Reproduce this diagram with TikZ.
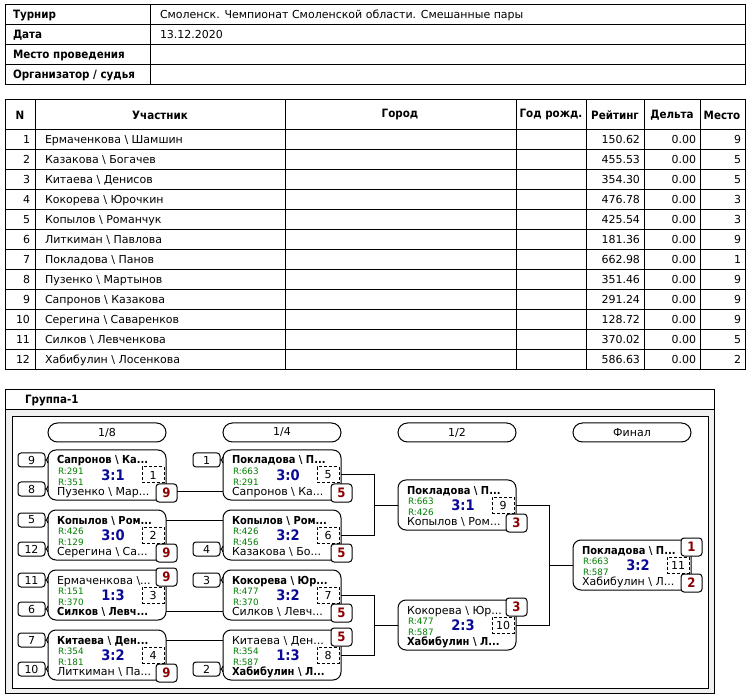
\documentclass[tikz,border=0pt]{standalone}
\usepackage{fontspec}
\setmainfont{DejaVu Sans}[BoldFeatures={FakeStretch=0.9}]
\usetikzlibrary{calc}
\definecolor{rgreen}{RGB}{0,128,0}
\definecolor{scoreblue}{RGB}{10,10,150}
\definecolor{placered}{RGB}{140,0,0}
\definecolor{framegrey}{RGB}{240,240,240}
\newcommand\bsl{\textbackslash}
\newcommand\mymatch[9]{%
 \node[matchbox] (#1) at (#2,#3) {};
 \coordinate (#1-tl) at ($(#1.north west)+(0,10)$);
 \coordinate (#1-tr) at ($(#1.north east)+(0,10)$);
 \coordinate (#1-bl) at ($(#1.north west)+(0,41)$);
 \coordinate (#1-br) at ($(#1.north east)+(0,41)$);
 \node[anchor=base west] (#1-a) at ($(#1.north west)+(9,14)$) {#4};
 \node[anchor=base west] (#1-b) at ($(#1.north west)+(9,45)$) {#5};
 \node[rtext] (#1-r1) at ($(#1.north west)+(10,24.5)$) {R:#6};
 \node[rtext] (#1-r2) at ($(#1.north west)+(10,35.5)$) {R:#7};
 \node[scoretext] (#1-s) at ($(#1.north west)+(65,25)$) {#8};
 \node[numbox] (#1-n) at ($(#1.north west)+(105,25)$) {#9};
}
\newcommand\placetop[3]{\node[placebox] (#1-#3) at ($(#1.north west)+(118.5,7)$) {#2};}
\newcommand\placebot[3]{\node[placebox] (#1-#3) at ($(#1.north west)+(118.5,43)$) {#2};}
\newcommand\seedat[4]{% match, dy, number, name
 \node[seedbox] (#4) at ($(#1.north west)+(-16.5,#2)$) {#3};
 \draw[line join=round] (#4.east) -- ++(1.5,0) -- ($(#4.east -| #1.west)+(0,-3)$);
 \draw[line join=round] ($(#4.east)+(1.5,0)$) -- ($(#4.east -| #1.west)+(0,3)$);
}
\begin{document}
\begin{tikzpicture}[x=1pt,y=-1pt,line width=1pt,
  every node/.style={inner sep=0pt,outer sep=0pt,font=\fontsize{11}{13}\selectfont},
  hb/.style={font=\fontsize{11.5}{13}\selectfont\bfseries},
  matchbox/.style={draw,fill=white,rounded corners=8pt,minimum width=118pt,minimum height=50pt,anchor=north west},
  seedbox/.style={draw,fill=white,rounded corners=3pt,minimum width=27pt,minimum height=14pt},
  numbox/.style={draw,dash pattern=on 3pt off 2pt,minimum width=22pt,minimum height=16pt},
  placebox/.style={draw,fill=white,rounded corners=3pt,minimum width=21pt,minimum height=18pt,text=placered,font=\fontsize{13}{15}\selectfont\bfseries},
  rtext/.style={text=rgreen,font=\fontsize{8.8}{10}\selectfont,anchor=base west},
  scoretext/.style={text=scoreblue,font=\fontsize{14.5}{16}\selectfont\bfseries},
  pill/.style={draw,fill=white,rounded corners=9.5pt,minimum width=118pt,minimum height=19pt,anchor=north west},
]
\fill[white] (0,0) rectangle (750,700);
\useasboundingbox (0,0) rectangle (750,700);

% ---- info table
\draw (5,5) rectangle (745,85);
\foreach \yy in {25,45,65} \draw (5,\yy) -- (745,\yy);
\draw (150,5) -- (150,85);
\node[hb,anchor=base west] (i1) at (13,19) {Турнир};
\node[hb,anchor=base west] (i2) at (13,39) {Дата};
\node[hb,anchor=base west] (i3) at (13,59) {Место проведения};
\node[hb,anchor=base west] (i4) at (13,79) {Организатор / судья};
\node[anchor=base west] (v1) at (160,19) {Смоленск. Чемпионат Смоленской области. Смешанные пары};
\node[anchor=base west] (v2) at (160,39) {13.12.2020};

% ---- participants table
\draw (5,100) rectangle (745,370);
\draw (5,130) -- (745,130);
\foreach \k in {1,...,11} \draw (5,130+20*\k) -- (745,130+20*\k);
\foreach \xx in {35,285,516,586,644,700} \draw (\xx,100) -- (\xx,370);
\node[hb] (h1) at (20,115) {N};
\node[hb] (h2) at (160,115) {Участник};
\node[hb] (h3) at (400,115) {Город};
\node[hb] (h4) at (551,115) {Год рожд.};
\node[hb] (h5) at (615,115) {Рейтинг};
\node[hb] (h6) at (672,115) {Дельта};
\node[hb] (h7) at (722,115) {Место};
\foreach \i/\a/\b/\r/\p in {1/Ермаченкова/Шамшин/150.62/9,2/Казакова/Богачев/455.53/5,3/Китаева/Денисов/354.30/5,4/Кокорева/Юрочкин/476.78/3,5/Копылов/Романчук/425.54/3,6/Литкиман/Павлова/181.36/9,7/Покладова/Панов/662.98/1,8/Пузенко/Мартынов/351.46/9,9/Сапронов/Казакова/291.24/9,10/Серегина/Саваренков/128.72/9,11/Силков/Левченкова/370.02/5,12/Хабибулин/Лосенкова/586.63/2}{
  \pgfmathsetmacro\yy{124+20*\i}
  \node[anchor=base east] (pn\i) at (30,\yy) {\i};
  \node[anchor=base west] (pa\i) at (45,\yy) {\a\ \bsl\ \b};
  \node[anchor=base east] (pr\i) at (640,\yy) {\r};
  \node[anchor=base east] (pd\i) at (696,\yy) {0.00};
  \node[anchor=base east] (pp\i) at (741,\yy) {\p};
}

% ---- group frame
\fill[framegrey] (5,390) rectangle (714,693);
\draw (5,390) rectangle (714,693);
\draw[fill=white] (5,390) rectangle (714,410);
\draw[fill=white] (12,417) rectangle (708,688);
\node[hb,anchor=base west] (gt) at (25,404) {Группа-1};

\node[pill] (r1) at (48,423) {1/8};
\node[pill] (r2) at (223,423) {1/4};
\node[pill] (r3) at (398,423) {1/2};
\node[pill] (r4) at (573,423) {Финал};

% ---- matches
\mymatch{m1}{48}{450}{\bfseries Сапронов \bsl{} Ка...}{Пузенко \bsl{} Мар...}{291}{351}{3:1}{1}
\mymatch{m2}{48}{510}{\bfseries Копылов \bsl{} Ром...}{Серегина \bsl{} Са...}{426}{129}{3:0}{2}
\mymatch{m3}{48}{570}{Ермаченкова \bsl...}{\bfseries Силков \bsl{} Левч...}{151}{370}{1:3}{3}
\mymatch{m4}{48}{630}{\bfseries Китаева \bsl{} Ден...}{Литкиман \bsl{} Па...}{354}{181}{3:2}{4}
\mymatch{m5}{223}{450}{\bfseries Покладова \bsl{} П...}{Сапронов \bsl{} Ка...}{663}{291}{3:0}{5}
\mymatch{m6}{223}{510}{\bfseries Копылов \bsl{} Ром...}{Казакова \bsl{} Бо...}{426}{456}{3:2}{6}
\mymatch{m7}{223}{570}{\bfseries Кокорева \bsl{} Юр...}{Силков \bsl{} Левч...}{477}{370}{3:2}{7}
\mymatch{m8}{223}{630}{Китаева \bsl{} Ден...}{\bfseries Хабибулин \bsl{} Л...}{354}{587}{1:3}{8}
\mymatch{m9}{398}{480}{\bfseries Покладова \bsl{} П...}{Копылов \bsl{} Ром...}{663}{426}{3:1}{9}
\mymatch{m10}{398}{600}{Кокорева \bsl{} Юр...}{\bfseries Хабибулин \bsl{} Л...}{477}{587}{2:3}{10}
\mymatch{m11}{573}{540}{\bfseries Покладова \bsl{} П...}{Хабибулин \bsl{} Л...}{663}{587}{3:2}{11}

% ---- connectors
\draw (m1-br) -- (m5-bl);
\draw (m2-tr) -- (m6-tl);
\draw (m3-br) -- (m7-bl);
\draw (m4-tr) -- (m8-tl);
\coordinate (j1) at ($(m9.west)+(-24,0)$);
\coordinate (j2) at ($(m10.west)+(-24,0)$);
\coordinate (j3) at ($(m11.west)+(-24,0)$);
\draw (m5.east) -| (j1);
\draw (m6.east) -| (j1);
\draw (j1) -- (m9.west);
\draw (m7.east) -| (j2);
\draw (m8.east) -| (j2);
\draw (j2) -- (m10.west);
\draw (m9.east) -| (j3);
\draw (m10.east) -| (j3);
\draw (j3) -- (m11.west);

% ---- places
\placebot{m1}{9}{p}
\placebot{m2}{9}{p}
\placetop{m3}{9}{p}
\placebot{m4}{9}{p}
\placebot{m5}{5}{p}
\placebot{m6}{5}{p}
\placebot{m7}{5}{p}
\placetop{m8}{5}{p}
\placebot{m9}{3}{p}
\placetop{m10}{3}{p}
\placetop{m11}{1}{p1}
\placebot{m11}{2}{p2}

% ---- seeds
\seedat{m1}{10}{9}{s1}
\seedat{m1}{39}{8}{s2}
\seedat{m2}{10}{5}{s3}
\seedat{m2}{39}{12}{s4}
\seedat{m3}{10}{11}{s5}
\seedat{m3}{39}{6}{s6}
\seedat{m4}{10}{7}{s7}
\seedat{m4}{39}{10}{s8}
\seedat{m5}{10}{1}{s9}
\seedat{m6}{39}{4}{s10}
\seedat{m7}{10}{3}{s11}
\seedat{m8}{39}{2}{s12}
\end{tikzpicture}
\end{document}
